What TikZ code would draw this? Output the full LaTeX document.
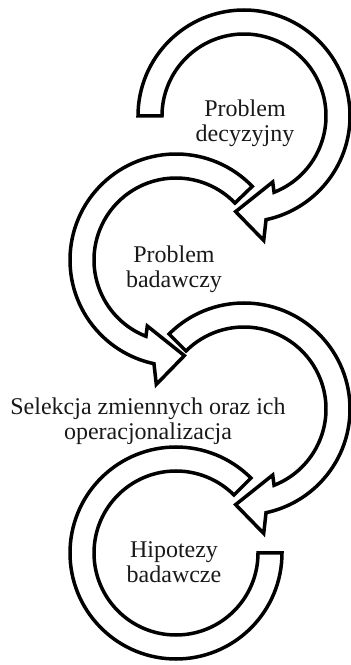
\documentclass[tikz,border=0pt]{standalone}
\usepackage{fontspec}
\setmainfont{Liberation Serif}
\usetikzlibrary{calc}

% radii of the curved bands (in pt)
\def\Ro{106}   % outer edge
\def\Ri{82}    % inner edge
\def\Rb{126}   % outer barb of the head
\def\Ra{72}    % inner barb of the head
\def\Rt{96}    % tip of the head

% clockwise band with an arrow head: #1 centre, #2 start angle, #3 tip angle
\newcommand\bandCW[3]{%
  \draw[band] ($(#1)+(#2:\Ro)$) arc[start angle=#2, end angle={#3+17}, radius=\Ro]
    -- ($(#1)+({#3+14}:\Rb)$) -- ($(#1)+(#3:\Rt)$)
    -- ($(#1)+({#3+28.5}:\Ra)$) -- ($(#1)+({#3+26.5}:\Ri)$)
    arc[start angle={#3+26.5}, end angle=#2, radius=\Ri] -- cycle;}

% counter-clockwise band with an arrow head
\newcommand\bandCCW[3]{%
  \draw[band] ($(#1)+(#2:\Ro)$) arc[start angle=#2, end angle={#3-17}, radius=\Ro]
    -- ($(#1)+({#3-14}:\Rb)$) -- ($(#1)+(#3:\Rt)$)
    -- ($(#1)+({#3-28.5}:\Ra)$) -- ($(#1)+({#3-26.5}:\Ri)$)
    arc[start angle={#3-26.5}, end angle=#2, radius=\Ri] -- cycle;}

% plain band without a head
\newcommand\bandPlain[3]{%
  \draw[band] ($(#1)+(#2:\Ro)$) arc[start angle=#2, end angle=#3, radius=\Ro]
    -- ($(#1)+(#3:\Ri)$) arc[start angle=#3, end angle=#2, radius=\Ri] -- cycle;}

\begin{document}
\begin{tikzpicture}[x=1pt, y=1pt,
  band/.style={draw=black, fill=white, line width=3.5pt, line join=miter, miter limit=8},
  label/.style={align=center, font=\fontsize{24}{25}\selectfont, text=black!90, inner sep=0pt}]
  \useasboundingbox (0,0) rectangle (351,665);

  \coordinate (c1) at (244,549);
  \coordinate (c2) at (176,405);
  \coordinate (c3) at (244,256);
  \coordinate (c4) at (176,112);

  \bandCW{c1}{180}{-95}
  \bandCCW{c2}{44}{275}
  \bandCW{c3}{135}{-95}
  \bandPlain{c4}{45}{360}

  \node[label] (t1) at (245,542) {Problem\\decyzyjny};
  \node[label] (t2) at (174,396) {Problem\\badawczy};
  \node[label] (t3) at (148,244) {Selekcja zmiennych oraz ich\\operacjonalizacja};
  \node[label] (t4) at (174,103) {Hipotezy\\badawcze};
\end{tikzpicture}
\end{document}
